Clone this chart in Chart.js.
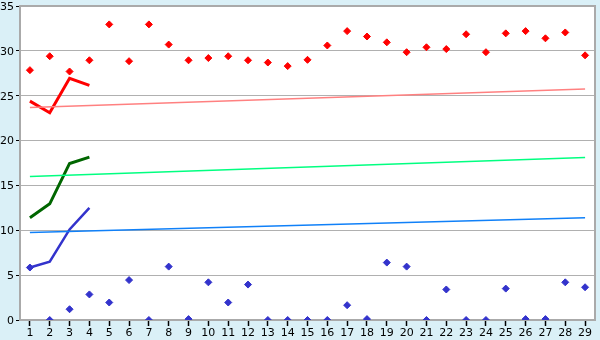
<!DOCTYPE html>
<html>
<head>
<meta charset="utf-8">
<script src="https://cdn.jsdelivr.net/npm/chart.js@4"></script>
<style>
  html, body { margin: 0; padding: 0; background: #daf0f7; }
  #wrap { width: 600px; height: 340px; }
</style>
</head>
<body>
<div id="wrap"><canvas id="chart" width="600" height="340"></canvas></div>
<script>
const labels = [1,2,3,4,5,6,7,8,9,10,11,12,13,14,15,16,17,18,19,20,21,22,23,24,25,26,27,28,29];

const redPoints = [27.85,29.4,27.7,28.95,32.95,28.85,32.95,30.7,28.95,29.2,29.4,28.95,28.7,28.3,29.0,30.6,32.2,31.6,30.95,29.85,30.4,30.2,31.85,29.85,31.95,32.2,31.4,32.05,29.5];
const bluePoints = [5.85,0,1.2,2.85,1.95,4.45,0,5.95,0.1,4.2,1.95,3.95,0,0,0,0,1.65,0.1,6.4,5.95,0,3.4,0,0,3.5,0.1,0.1,4.2,3.65];

const redLine = [24.4,23.1,26.95,26.15];
const greenLine = [11.4,12.95,17.45,18.15];
const blueLine = [5.85,6.5,10.1,12.5];

// trend lines: start and end values only
const redTrend = [23.7, 25.75];
const greenTrend = [16.0, 18.1];
const blueTrend = [9.75, 11.4];

function trendData(ends) {
  let d = labels.map(() => null);
  d[0] = ends[0];
  d[labels.length - 1] = ends[1];
  return d;
}

const plotBox = {
  id: 'plotBox',
  beforeDraw(chart) {
    const a = chart.chartArea, ctx = chart.ctx;
    ctx.save();
    ctx.fillStyle = '#ffffff';
    ctx.fillRect(a.left, a.top, a.right - a.left, a.bottom - a.top);
    ctx.restore();
  },
  afterDraw(chart) {
    const a = chart.chartArea, ctx = chart.ctx;
    ctx.save();
    ctx.strokeStyle = '#aaaaaa';
    ctx.lineWidth = 2;
    ctx.beginPath();
    ctx.moveTo(a.left, a.top);
    ctx.lineTo(a.right, a.top);
    ctx.lineTo(a.right, a.bottom);
    ctx.stroke();
    ctx.restore();
  }
};

const marker = { showLine: false, pointStyle: 'rectRot', pointRadius: 3.5, pointBorderWidth: 1 };

new Chart(document.getElementById('chart'), {
  type: 'line',
  data: {
    labels: labels,
    datasets: [
      { data: trendData(redTrend), borderColor: '#ff8080', borderWidth: 1.5, pointRadius: 0, spanGaps: true },
      { data: trendData(greenTrend), borderColor: '#00ff80', borderWidth: 1.5, pointRadius: 0, spanGaps: true },
      { data: trendData(blueTrend), borderColor: '#1080f8', borderWidth: 1.5, pointRadius: 0, spanGaps: true },
      { data: redLine, borderColor: '#ff0000', borderWidth: 3, pointRadius: 0 },
      { data: greenLine, borderColor: '#006600', borderWidth: 3, pointRadius: 0 },
      { data: blueLine, borderColor: '#3333cc', borderWidth: 2.5, pointRadius: 0 },
      Object.assign({ data: redPoints, backgroundColor: '#ff0000', borderColor: '#ff0000' }, marker),
      Object.assign({ data: bluePoints, backgroundColor: '#3333cc', borderColor: '#3333cc' }, marker)
    ]
  },
  options: {
    responsive: false,
    animation: false,
    layout: { padding: { top: 6, right: 5, left: 0, bottom: 0 } },
    plugins: { legend: { display: false }, tooltip: { enabled: false } },
    scales: {
      x: {
        offset: true,
        afterFit: (s) => { s.height = 20; s.paddingLeft = 0; s.paddingRight = 0; },
        grid: { drawOnChartArea: false, tickLength: 6, tickColor: '#000000', tickWidth: 1.5 },
        border: { color: '#aaaaaa', width: 2 },
        ticks: { color: '#000000', padding: 1, maxRotation: 0, autoSkip: false, font: { family: 'DejaVu Sans', size: 11 } }
      },
      y: {
        min: 0,
        max: 35,
        afterFit: (s) => { s.width = 20; s.paddingTop = 0; s.paddingBottom = 0; },
        grid: { color: '#b0b0b0', lineWidth: 1, tickLength: 4, tickColor: '#000000' },
        border: { color: '#aaaaaa', width: 2 },
        ticks: { stepSize: 5, color: '#000000', padding: 2, labelOffset: 1, font: { family: 'DejaVu Sans', size: 11 } }
      }
    }
  },
  plugins: [plotBox]
});
</script>
</body>
</html>
